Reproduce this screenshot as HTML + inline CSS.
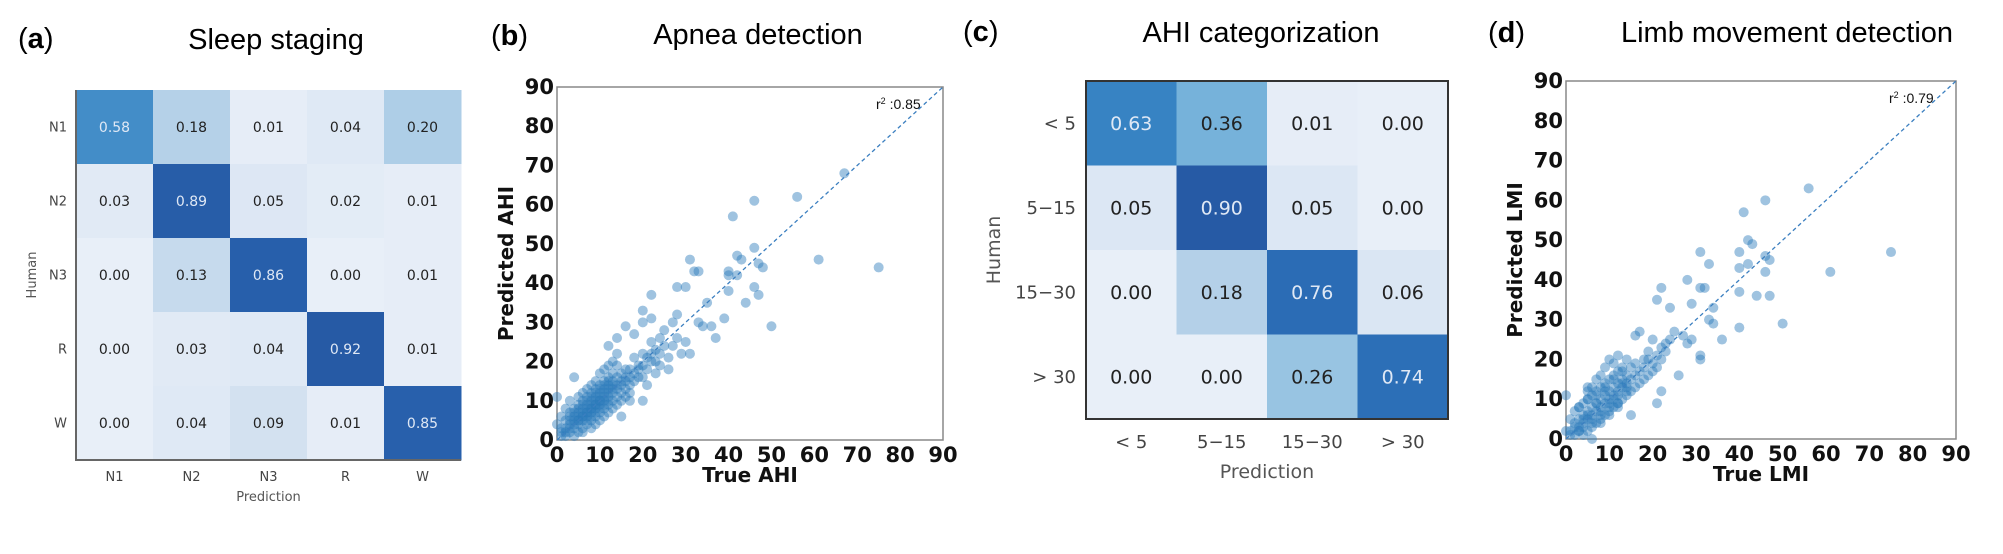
<!DOCTYPE html>
<html><head><meta charset="utf-8">
<style>
html,body{margin:0;padding:0;background:#fff;}
svg{display:block;}
</style></head>
<body>
<svg id="fig" width="2003" height="554" viewBox="0 0 2003 554" xmlns="http://www.w3.org/2000/svg">
<rect width="2003" height="554" fill="#fff"/>
<g font-family="Liberation Sans, sans-serif" fill="#000">
<text x="18" y="48" font-size="29">(<tspan font-weight="bold">a</tspan>)</text>
<text x="276" y="49" font-size="29" text-anchor="middle">Sleep staging</text>
<text x="491" y="45" font-size="29">(<tspan font-weight="bold">b</tspan>)</text>
<text x="758" y="44" font-size="29" text-anchor="middle">Apnea detection</text>
<text x="963" y="41" font-size="29">(<tspan font-weight="bold">c</tspan>)</text>
<text x="1261" y="42" font-size="29" text-anchor="middle">AHI categorization</text>
<text x="1488" y="42" font-size="29">(<tspan font-weight="bold">d</tspan>)</text>
<text x="1787" y="42" font-size="29" text-anchor="middle">Limb movement detection</text>
</g>
<g id="pa"></g><g id="pb"></g><g id="pc"></g><g id="pd"></g>
</svg>
<script>
const NS='http://www.w3.org/2000/svg';
// ---- Panel a data ----
const stageLabels=['N1','N2','N3','R','W'];
const stageMatrix=[
 [0.58,0.18,0.01,0.04,0.20],
 [0.03,0.89,0.05,0.02,0.01],
 [0.00,0.13,0.86,0.00,0.01],
 [0.00,0.03,0.04,0.92,0.01],
 [0.00,0.04,0.09,0.01,0.85]];
// ---- Panel c data ----
const ahiLabels=['< 5','5\u221215','15\u221230','> 30'];
const ahiMatrix=[
 [0.63,0.36,0.01,0.00],
 [0.05,0.90,0.05,0.00],
 [0.00,0.18,0.76,0.06],
 [0.00,0.00,0.26,0.74]];
// ---- Panel b data ----
const axisTicks=[0,10,20,30,40,50,60,70,80,90];
const ahiTrue=[67,56,46,41,46,42,43,31,40,40,33,32,48,47,61,75,42,40,46,47,44,28,30,22,20,22,28,27,33,34,36,39,50,35,37,31,29,27,28,30,26,22,24,25,20,16,18,14,12,14,18,20,22,24,26,23,19,21,17,20,15,4,0,25,23,21,19,17,16,15,14,13,12,11,10,9,8,7,6,5,4,3,2,1,
1,2,2,3,3,3,4,4,4,5,5,5,5,6,6,6,6,7,7,7,7,8,8,8,8,9,9,9,9,10,10,10,10,11,11,11,11,12,12,12,12,13,13,13,13,14,14,14,15,15,15,16,16,16,17,17,18,18,19,20,20,21,22,23,24,2,3,5,6,7,8,9,10,11,12,13,14,4,6,8,9,10,11,12,13,14,15,16,17,1,0,1,2,3,4,5,6,7,8,9,10,11,12,13,3,4,5,6,7,8,9,10,11,12,5,6,7,8,9,10,7,8,9,10,11,12];
const ahiPred=[68,62,61,57,49,47,46,46,43,42,43,43,44,45,46,44,42,38,39,37,35,39,39,37,33,31,32,30,30,29,29,31,29,35,26,22,22,24,26,25,21,25,26,28,30,29,27,26,24,22,21,22,20,19,18,17,16,14,12,10,6,16,11,24,23,21,19,18,16,15,14,13,12,11,10,9,8,7,6,5,4,3,2,1,
3,5,1,4,7,2,6,3,8,4,7,9,2,5,8,10,3,6,9,11,4,7,10,12,5,8,11,13,6,9,12,14,7,10,13,15,8,11,14,16,9,12,15,17,10,13,16,11,14,17,12,15,18,13,16,14,17,15,18,19,16,18,22,20,22,8,10,11,12,13,14,15,17,18,19,20,19,1,2,3,4,5,6,7,8,9,10,11,10,6,4,2,3,5,5,6,7,8,9,10,11,12,13,14,6,7,8,9,10,11,12,13,14,15,5,6,7,8,9,10,5,6,7,8,9,10];
// ---- Panel d data ----
const lmiTrue=[56,46,41,42,43,31,40,42,47,46,40,33,46,61,75,28,31,32,22,40,44,47,21,24,29,34,33,34,40,50,36,31,31,26,22,21,15,5,0,24,25,27,28,29,22,23,20,17,16,19,18,
1,1,2,2,2,3,3,3,3,4,4,4,4,5,5,5,5,5,6,6,6,6,6,7,7,7,7,7,8,8,8,8,8,9,9,9,9,9,10,10,10,10,10,11,11,11,11,11,12,12,12,12,12,13,13,13,13,14,14,14,14,15,15,15,16,16,16,17,17,18,18,19,19,20,20,21,21,22,23,0,1,2,3,4,5,6,7,8,9,10,11,12,13,14,3,5,7,9,11,13,4,6,8,10,12,14,6,8,10,12];
const lmiPred=[63,60,57,50,49,47,47,44,45,46,43,44,42,42,47,40,38,38,38,37,36,36,35,33,34,33,30,29,28,29,25,20,21,16,12,9,6,13,11,25,27,26,24,25,23,24,25,27,26,22,20,
2,5,1,4,7,2,5,8,3,1,4,6,9,2,5,7,10,12,3,6,8,11,13,4,7,9,12,15,5,8,10,13,16,6,9,11,14,18,7,10,12,15,20,8,11,13,16,19,9,12,14,17,21,10,13,15,18,11,14,16,20,12,15,18,13,16,19,14,17,15,18,16,20,17,19,18,21,20,22,2,1,3,2,5,6,4,9,6,12,8,10,11,14,13,8,10,11,13,15,17,3,5,7,9,8,12,0,4,6,9];

function el(tag,attrs,parent,text){const e=document.createElementNS(NS,tag);for(const k in attrs)e.setAttribute(k,attrs[k]);if(text!==undefined)e.textContent=text;parent.appendChild(e);return e;}
const stops=[[0,[232,239,248]],[0.1,[211,225,240]],[0.2,[180,208,232]],[0.3,[148,195,225]],[0.4,[118,178,218]],[0.6,[72,145,202]],[0.75,[47,124,192]],[0.9,[40,98,174]],[1,[38,90,165]]];
function blues(v){for(let i=1;i<stops.length;i++){if(v<=stops[i][0]){const a=stops[i-1],b=stops[i];const t=(v-a[0])/(b[0]-a[0]);return 'rgb('+a[1].map((c,j)=>Math.round(c+(b[1][j]-c)*t)).join(',')+')';}}return 'rgb(38,90,165)';}

function heatmap(g,labels,M,x0,y0,x1,y1,fs,lfs,opts){
 const n=labels.length,cw=(x1-x0)/n,ch=(y1-y0)/n;
 const mx=Math.max(...M.flat());
 M.forEach((row,i)=>row.forEach((v,j)=>{
  const r=el('rect',{x:x0+j*cw,y:y0+i*ch,width:cw+0.5,height:ch+0.5,fill:blues(v/mx)},g);
  
  
  const t=el('text',{x:x0+(j+0.5)*cw,y:y0+(i+0.5)*ch+fs*0.36,'font-size':fs,'text-anchor':'middle',fill:v/mx>0.6?'#dfe8f5':'#222','font-family':'DejaVu Sans, sans-serif'},g,v.toFixed(2));
  
  
 }));
 labels.forEach((l,i)=>{
  const t=el('text',{x:x0-opts.rowGap,y:y0+(i+0.5)*ch+lfs*0.36,'font-size':lfs,'text-anchor':'end',fill:'#444','font-family':'DejaVu Sans, sans-serif'},g,l);
  
  
  const c=el('text',{x:x0+(i+0.5)*cw,y:opts.colY,'font-size':lfs,'text-anchor':'middle',fill:'#444','font-family':'DejaVu Sans, sans-serif'},g,l);
  
  
 });
 if(opts.frame){const f=el('rect',{x:x0,y:y0,width:x1-x0,height:y1-y0,fill:'none',stroke:'#333','stroke-width':2},g);
  }
 else{const a=el('path',{d:`M${x0},${y0} V${y1} H${x1}`,fill:'none',stroke:'#666','stroke-width':2},g);
  }
 const xl=el('text',{x:(x0+x1)/2,y:opts.xTitleY,'font-size':opts.tfs,'text-anchor':'middle',fill:'#555','font-family':'DejaVu Sans, sans-serif'},g,'Prediction');
 
 const yl=el('text',{x:0,y:0,'font-size':opts.tfs,'text-anchor':'middle',fill:'#555','font-family':'DejaVu Sans, sans-serif',transform:`translate(${opts.yTitleX},${(y0+y1)/2}) rotate(-90)`},g,'Human');
 
}

function scatter(g,xs,ys,x0,y0,x1,y1,xt,yt,r2){
 const sx=v=>x0+(v/90)*(x1-x0), sy=v=>y1-(v/90)*(y1-y0);
 const fr=el('rect',{x:x0,y:y0,width:x1-x0,height:y1-y0,fill:'#fff',stroke:'#888','stroke-width':1.5},g);
 
 xs.forEach((v,i)=>{const c=el('circle',{cx:sx(v),cy:sy(ys[i]),r:5,fill:'#2b7bba','fill-opacity':0.45},g);
  });
 const ln=el('line',{x1:sx(0),y1:sy(0),x2:sx(90),y2:sy(90),stroke:'#3b7fc0','stroke-width':1.3,'stroke-dasharray':'4,3'},g);
 
 axisTicks.forEach(t=>{
  const a=el('text',{x:sx(t),y:y1+22,'font-size':21,'font-weight':'bold','text-anchor':'middle','font-family':'DejaVu Sans, sans-serif',fill:'#111'},g,t);
  
  const b=el('text',{x:x0-3,y:sy(t)+7,'font-size':21,'font-weight':'bold','text-anchor':'end','font-family':'DejaVu Sans, sans-serif',fill:'#111'},g,t);
  
 });
 const xl=el('text',{x:(x0+x1)/2,y:y1+42,'font-size':20,'font-weight':'bold','text-anchor':'middle','font-family':'DejaVu Sans, sans-serif',fill:'#111'},g,xt);
 
 const yl=el('text',{x:0,y:0,'font-size':20,'font-weight':'bold','text-anchor':'middle','font-family':'DejaVu Sans, sans-serif',fill:'#111',transform:`translate(${x0-44},${(y0+y1)/2}) rotate(-90)`},g,yt);
 
 const rt=el('text',{x:x1-67,y:y0+22,'font-size':14,'font-family':'Liberation Sans, sans-serif',fill:'#111'},g);
 
 rt.innerHTML='r<tspan dy="-5" font-size="9">2</tspan><tspan dy="5"> :'+r2+'</tspan>';
}

heatmap(document.getElementById('pa'),stageLabels,stageMatrix,76,90,461,460,14,13,{rowGap:9,colY:481,xTitleY:501,yTitleX:36,tfs:13,frame:false});
heatmap(document.getElementById('pc'),ahiLabels,ahiMatrix,1086,81,1448,419,19,18,{rowGap:10,colY:448,xTitleY:478,yTitleX:1000,tfs:19,frame:true});
scatter(document.getElementById('pb'),ahiTrue,ahiPred,557,87,943,440,'True AHI','Predicted AHI','0.85');
scatter(document.getElementById('pd'),lmiTrue,lmiPred,1566,81,1956,439,'True LMI','Predicted LMI','0.79');
</script>
</body></html>
